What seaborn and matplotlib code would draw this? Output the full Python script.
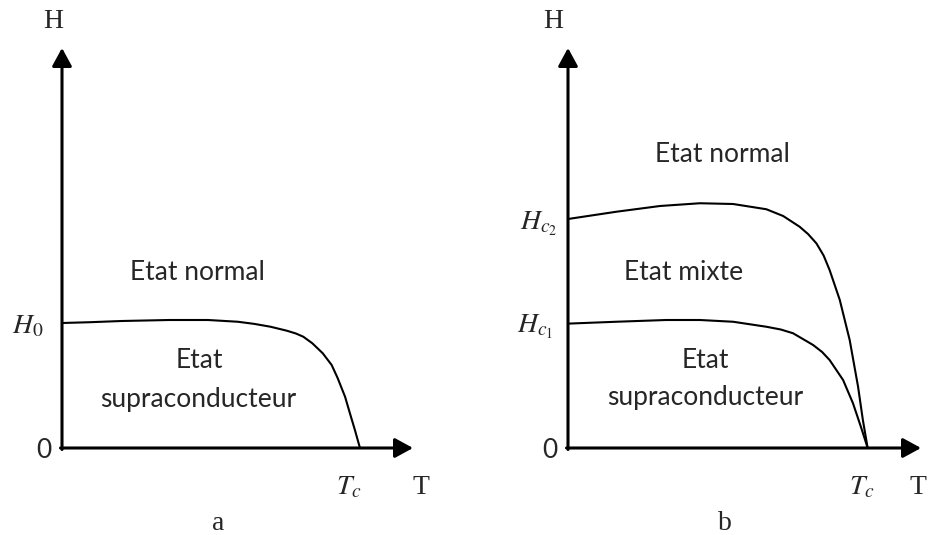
import matplotlib
matplotlib.use("Agg")
import matplotlib.pyplot as plt
import pandas as pd
import seaborn as sns

# (a) type-I superconductor: critical field H(T), T in units of Tc, H in units of H0
T_a = [0, 0.09, 0.2, 0.36, 0.49, 0.59, 0.645, 0.70, 0.755, 0.785, 0.81, 0.84,
       0.875, 0.905, 0.925, 0.95, 0.966, 0.983, 1.0]
H_a = [1.0, 1.006, 1.016, 1.024, 1.024, 1.01, 0.993, 0.97, 0.938, 0.916, 0.89,
       0.838, 0.758, 0.664, 0.56, 0.41, 0.28, 0.144, 0.0]

# (b) type-II superconductor: upper critical field Hc2(T)
T_c2 = [0, 0.161, 0.307, 0.44, 0.551, 0.662, 0.718, 0.773, 0.801, 0.829, 0.853,
        0.873, 0.907, 0.94, 0.968, 0.984, 1.0]
H_c2 = [1.832, 1.89, 1.936, 1.958, 1.952, 1.91, 1.856, 1.77, 1.712, 1.637, 1.54,
        1.424, 1.184, 0.864, 0.49, 0.224, 0.0]

# (b) lower critical field Hc1(T)
T_c1 = [0, 0.161, 0.328, 0.44, 0.551, 0.662, 0.71, 0.751, 0.818, 0.848, 0.873,
        0.918, 0.951, 0.979, 1.0]
H_c1 = [0.995, 1.01, 1.024, 1.024, 1.01, 0.97, 0.948, 0.918, 0.824, 0.768, 0.704,
        0.544, 0.358, 0.158, 0.0]

# region names
normal_label = "Etat normal"
mixed_label = "Etat mixte"
state_word = "Etat"
super_word = "supraconducteur"

sns.set_theme(style="white")
plt.rcParams["font.family"] = ["Lato", "DejaVu Sans"]
plt.rcParams["mathtext.fontset"] = "stix"

W, HP = 930, 535
fig = plt.figure(figsize=(W / 100, HP / 100), dpi=100)
fig.patch.set_facecolor("white")


def px_axes(x0, y0, x1, y1):
    """Axes from a pixel box measured from the top-left corner."""
    return fig.add_axes([x0 / W, 1 - y1 / HP, (x1 - x0) / W, (y1 - y0) / HP])


T_MAX, H_MAX = 1.178, 3.2
axA = px_axes(62, 48, 413, 448)
axB = px_axes(568, 48, 921, 448)

SERIF = ["Liberation Serif", "DejaVu Serif"]
SANS_SIZE = 19
SERIF_SIZE = 20
MATH_SIZE = 20


def draw_frame(ax, h_off, t_off):
    ax.set_xlim(0, T_MAX)
    ax.set_ylim(0, H_MAX)
    ax.set_axis_off()
    arrow = dict(arrowstyle="-|>,head_length=0.55,head_width=0.3", lw=2.2,
                 color="black", shrinkA=0, shrinkB=0, mutation_scale=20)
    ax.annotate("", xy=(T_MAX, 0), xytext=(-0.005, 0), arrowprops=arrow,
                annotation_clip=False)
    ax.annotate("", xy=(0, H_MAX), xytext=(0, -0.012), arrowprops=arrow,
                annotation_clip=False)
    ax.annotate("H", xy=(0, H_MAX), xytext=h_off, textcoords="offset pixels",
                ha="center", va="center", fontsize=SERIF_SIZE, family=SERIF,
                annotation_clip=False)
    ax.annotate("T", xy=(T_MAX, 0), xytext=t_off, textcoords="offset pixels",
                ha="center", va="center", fontsize=SERIF_SIZE, family=SERIF,
                annotation_clip=False)
    ax.annotate("0", xy=(0, 0), xytext=(-18, -3), textcoords="offset pixels",
                ha="center", va="center", fontsize=SANS_SIZE,
                annotation_clip=False)


def curve(ax, t, h):
    df = pd.DataFrame({"T": t, "H": h})
    sns.lineplot(data=df, x="T", y="H", ax=ax, color="black", lw=1.5,
                 sort=False, estimator=None)


def field_label(ax, text, h, dx, dy):
    ax.annotate(text, xy=(0, h), xytext=(dx, dy), textcoords="offset pixels",
                ha="right", va="center", fontsize=MATH_SIZE,
                annotation_clip=False)


def tc_label(ax, t, dx):
    ax.annotate(r"$T_c$", xy=(t, 0), xytext=(dx, -39),
                textcoords="offset pixels", ha="center", va="center",
                fontsize=MATH_SIZE, annotation_clip=False)


def region(ax, x, y, text):
    ax.text(x, y, text, ha="center", va="center", fontsize=SANS_SIZE)


# ---- panel a ----
draw_frame(axA, (-9, 26), (8, -40))
curve(axA, T_a, H_a)
field_label(axA, r"$H_0$", H_a[0], -18, -3)
tc_label(axA, T_a[-1], -11)
region(axA, 0.453, 1.408, normal_label)
region(axA, 0.462, 0.696, state_word)
region(axA, 0.456, 0.392, super_word)

# ---- panel b ----
draw_frame(axB, (-15, 26), (-3, -40))
curve(axB, T_c2, H_c2)
curve(axB, T_c1, H_c1)
field_label(axB, r"$H_{c_2}$", H_c2[0], -11, -5)
field_label(axB, r"$H_{c_1}$", H_c1[0], -15, -3)
tc_label(axB, T_c2[-1], -6)
region(axB, 0.517, 2.344, normal_label)
region(axB, 0.387, 1.40, mixed_label)
region(axB, 0.46, 0.70, state_word)
region(axB, 0.457, 0.404, super_word)

# panel captions
fig.text(218 / W, 1 - 523 / HP, "a", ha="center", va="center",
         fontsize=SERIF_SIZE, family=SERIF)
fig.text(725 / W, 1 - 524 / HP, "b", ha="center", va="center",
         fontsize=SERIF_SIZE, family=SERIF)

fig.savefig("out.png", dpi=100, facecolor="white")
